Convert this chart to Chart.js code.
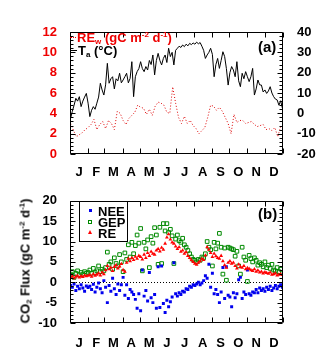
<!DOCTYPE html>
<html>
<head>
<meta charset="utf-8">
<script src="https://cdn.jsdelivr.net/npm/chart.js@4.4.1/dist/chart.umd.min.js"></script>
<style>
  body { margin: 0; background: #fff; }
  #wrap { position: relative; width: 327px; height: 359px; font-family: "Liberation Sans", Arial, sans-serif; font-weight: bold; }
  .panel { position: absolute; left: 0; width: 327px; }
  .lg { position: absolute; font-size: 13px; line-height: 13px; white-space: nowrap; }
  sub, sup { font-size: 8px; line-height: 0; }
  sub { vertical-align: -2px; }
  sup { vertical-align: 5px; }
  .dot { display: inline-block; width: 6px; border-top: 1px dotted #ee0000; vertical-align: 4px; margin-right: 1px; }
  .sol { display: inline-block; width: 7px; border-top: 1px solid #000; vertical-align: 4px; margin-right: 1px; }
  .tag { position: absolute; font-size: 15px; }
  #box { position: absolute; left: 79px; top: 201px; width: 47px; height: 39px; border: 1px solid #000; background: #fff; }
  #box .row { position: absolute; left: 18px; font-size: 13px; line-height: 11px; }
  #box .mk { position: absolute; }
  #ytitle { position: absolute; left: 25px; top: 261px; transform: translate(-50%, -50%) rotate(-90deg); font-size: 13px; white-space: nowrap; }
</style>
</head>
<body>
<div id="wrap">
  <div class="panel" style="top:0;height:180px"><canvas id="chartA"></canvas></div>
  <div class="panel" style="top:180px;height:179px"><canvas id="chartB"></canvas></div>

  <div class="lg" style="left:70px;top:31px;color:#ee0000"><span class="dot"></span>RE<sub>w</sub> (gC m<sup>-2</sup> d<sup>-1</sup>)</div>
  <div class="lg" style="left:70px;top:44px;color:#000"><span class="sol"></span>T<sub>a</sub> (°C)</div>
  <div class="tag" style="left:258px;top:38px">(a)</div>
  <div class="tag" style="left:258px;top:205px">(b)</div>

  <div id="box">
    <span class="mk" style="left:9px;top:7px;width:3px;height:3px;background:#0000ee"></span>
    <span class="mk" style="left:8px;top:18px;width:2px;height:2px;border:1px solid #008a00"></span>
    <span class="mk" style="left:8px;top:28px;width:0;height:0;border-left:2px solid transparent;border-right:2px solid transparent;border-bottom:4px solid #ff0000"></span>
    <div class="row" style="top:4px">NEE</div>
    <div class="row" style="top:15px">GEP</div>
    <div class="row" style="top:26px">RE</div>
  </div>
  <div id="ytitle">CO<sub>2</sub> Flux (gC m<sup>-2</sup> d<sup>-1</sup>)</div>
</div>

<script>
const monthLabels = ['J', 'F', 'M', 'A', 'M', 'J', 'J', 'A', 'S', 'O', 'N', 'D'];
const monthStarts = [0, 31, 59, 90, 120, 151, 181, 212, 243, 273, 304, 334, 365];

// sampling days (day of year)
const fluxDays = Array.from({length: 122}, (_, i) => 1 + 3 * i);
const taDays = fluxDays;
const reWDays = Array.from({length: 73}, (_, i) => 1 + 5 * i);

// (a) RE_w, gC m-2 d-1 (left axis)
const reW = [
  3.0, 2.3, 1.7, 1.9, 2.1, 2.4, 2.6, 2.9, 3.4, 2.4,
  2.9, 3.2, 2.5, 3.3, 3.0, 2.4, 4.2, 4.0, 3.3, 2.9,
  3.5, 3.8, 4.1, 4.8, 4.6, 4.5, 3.9, 4.4, 3.8, 4.7,
  5.1, 5.0, 4.8, 4.1, 4.0, 6.6, 5.0, 3.6, 3.0, 3.7,
  3.0, 3.3, 2.8, 2.5, 2.0, 2.3, 2.6, 3.6, 4.8, 4.7,
  4.3, 4.6, 4.2, 3.6, 3.0, 2.0, 3.9, 3.1, 3.3, 3.3,
  3.0, 3.1, 3.2, 2.9, 2.7, 2.8, 2.9, 2.4, 2.5, 2.3,
  2.6, 1.7, 2.7
];

// (a) air temperature, degC (right axis)
const ta = [
  -2.5, 1.0, 4.0, 7.4, 6.0, 8.2, 3.3, 6.0, 8.0, 9.8, 5.0,
  -1.6, 1.5, 3.3, 2.0, 5.0, 8.0, 14.8, 11.5, 9.0,
  14.0, 24.6, 14.8, 17.0, 18.0, 12.0, 17.0, 16.0, 19.7, 15.0,
  16.4, 18.0, 19.7, 15.0, 17.2, 25.4, 8.2, 18.0, 20.5, 22.0,
  25.4, 22.0, 20.5, 23.0, 21.3, 26.0, 24.0, 28.7, 18.9, 26.0, 29.5,
  26.0, 23.8, 27.0, 28.7, 25.0, 32.0, 27.9, 30.0, 23.8, 31.0,
  32.0, 33.0, 32.4, 33.6, 32.8, 34.0, 33.2, 34.4, 33.8, 34.6,
  34.0, 35.0, 34.2, 34.8, 33.0, 31.0, 27.0, 28.7, 30.0, 32.0,
  29.0, 18.0, 24.0, 27.0, 22.1, 26.0, 30.3, 27.9, 22.0, 13.9,
  20.0, 23.0, 21.3, 18.0, 25.4, 16.0, 13.1, 19.7, 17.0, 20.5, 18.0,
  15.6, 18.0, 22.1, 9.0, 12.0, 16.4, 14.0, 13.9, 10.5, 11.5,
  9.8, 11.0, 13.1, 10.0, 8.2, 7.0, 6.6, 4.0, 6.2, 2.5
];

// (b) CO2 fluxes, gC m-2 d-1
const nee = [
  -0.8, -1.2, -0.4, -2.0, -1.0, -1.6, -0.6, -1.4, -2.2, -0.9, -1.3,
  -1.0, -1.8, -0.5, -2.4, -1.2, -0.2, -1.6, -2.6, 0.4,
  -1.2, -5.0, -0.8, -2.2, 1.0, -1.6, -3.0, -0.4, -2.0, -0.6,
  1.2, -3.2, -0.6, -4.0, -1.8, -2.4, -3.0, -4.2, -6.4, -2.8,
  -7.0, 3.0, -3.4, -2.0, -4.6, 2.4, -3.8, -5.0, -3.0, -6.4, 3.8,
  -6.2, 4.0, -5.2, -7.4, -4.4, -6.0, -4.8, -3.6, 4.8, -2.8,
  -3.4, -2.6, -3.0, -2.2, -2.4, -1.6, -1.8, -1.0, -1.2, -0.6,
  -0.8, -0.4, 0.0, -0.6, -0.2, 0.4, 1.6, 1.0, 4.4, -1.2,
  2.2, -2.8, -1.8, -3.0, -5.0, -2.4, 3.6, -4.0, 3.8, -3.2,
  -3.6, -6.0, -2.6, -3.8, -2.8, 0.6, 1.2, -4.0, -2.4, -3.0, 3.0,
  -2.8, -3.2, -2.4, -2.6, -1.8, -2.6, -1.4, -2.0, -1.6, -2.2,
  -1.2, -1.8, -1.0, -2.0, -1.4, -0.8, -1.6, -1.0, -0.6, -1.2
];
const gep = [
  2.0, 2.6, 1.2, 2.2, 2.8, 1.8, 2.4, 2.0, 2.6, 2.2, 2.4,
  3.0, 2.2, 3.4, 2.4, 2.8, 4.0, 2.6, 3.2, 2.8,
  3.6, 7.4, 4.4, 5.0, 3.2, 6.0, 4.6, 4.0, 6.8, 5.0,
  2.6, 7.2, 5.6, 9.2, 6.2, 9.8, 7.0, 9.0, 11.6, 9.6,
  13.2, 2.8, 9.8, 8.2, 10.4, 3.6, 11.2, 9.6, 13.4, 11.6, 4.4,
  13.5, 4.6, 14.4, 12.6, 14.4, 12.2, 13.0, 11.4, 4.6, 10.6,
  11.6, 10.2, 9.8, 10.8, 9.2, 8.6, 7.8, 7.0, 6.2, 5.6,
  5.4, 5.0, 5.6, 5.4, 6.2, 6.0, 7.0, 10.0, 8.6, 8.0,
  4.0, 9.8, 8.2, 9.6, 12.0, 8.6, 2.0, 8.4, 0.5, 8.6,
  8.4, 8.2, 8.0, 6.4, 7.6, 4.0, 2.0, 8.6, 6.2, 5.4, 0.2,
  6.6, 5.8, 5.0, 6.0, 5.4, 4.2, 4.8, 4.4, 3.8, 5.0,
  3.6, 4.2, 3.4, 4.4, 3.0, 2.8, 3.6, 2.6, 3.2, 2.4
];
const re = [
  1.2, 1.5, 1.0, 1.4, 1.6, 1.2, 1.5, 1.3, 1.7, 1.5, 1.6,
  1.8, 1.4, 2.0, 1.6, 1.9, 2.2, 1.7, 2.4, 2.0,
  3.0, 4.0, 3.2, 3.6, 2.8, 3.8, 4.2, 3.4, 3.9, 4.5,
  3.0, 2.6, 4.8, 5.8, 5.2, 6.0, 5.5, 6.3, 5.8, 6.5,
  6.2, 5.6, 6.8, 6.0, 7.2, 6.5, 7.5, 7.0, 6.8, 7.8, 8.2,
  7.6, 8.5, 8.0, 9.5, 11.0, 11.8, 10.5, 9.8, 9.5, 8.8,
  8.2, 8.6, 7.5, 7.8, 7.0, 7.4, 6.5, 6.0, 5.4, 5.0,
  4.6, 4.3, 4.8, 5.2, 5.8, 5.5, 6.6, 8.6, 8.0, 7.2,
  6.2, 7.0, 6.4, 6.0, 5.8, 6.5, 5.2, 4.2, 3.6, 4.8,
  5.2, 4.6, 4.8, 4.0, 3.4, 4.4, 3.8, 3.6, 4.0, 3.2, 3.5,
  3.3, 3.0, 2.8, 3.2, 2.6, 2.9, 2.4, 2.6, 2.2, 2.5,
  2.3, 2.1, 2.4, 1.9, 2.0, 2.2, 1.7, 1.9, 2.0, 1.8
];

const monthMids = monthLabels.map((_, i) => (monthStarts[i] + monthStarts[i + 1]) / 2);
const pts = (days, vals) => days.map((d, i) => ({x: d, y: vals[i]}));

Chart.defaults.font.family = '"Liberation Sans", Arial, sans-serif';
Chart.defaults.font.weight = 'bold';
Chart.defaults.font.size = 13;
Chart.defaults.color = '#000';

// frame, inward tick marks, optional dotted zero line
const frameTicks = {
  id: 'frameTicks',
  beforeDatasetsDraw(chart, args, o) {
    if (!o.zero) return;
    const {ctx, chartArea: a} = chart;
    const y = Math.round(chart.scales.y.getPixelForValue(0)) + 0.5;
    ctx.save();
    ctx.strokeStyle = '#000';
    ctx.lineWidth = 1;
    ctx.setLineDash([1, 2]);
    ctx.beginPath();
    ctx.moveTo(a.left, y);
    ctx.lineTo(a.right, y);
    ctx.stroke();
    ctx.restore();
  },
  afterDatasetsDraw(chart, args, o) {
    const {ctx, chartArea: a, scales} = chart;
    const L = Math.round(a.left) + 0.5, R = Math.round(a.right) - 0.5;
    const T = Math.round(a.top) + 0.5, B = Math.round(a.bottom) - 0.5;
    ctx.save();
    ctx.strokeStyle = '#000';
    ctx.lineWidth = 1;
    ctx.beginPath();
    ctx.rect(L, T, R - L, B - T);
    monthStarts.forEach(d => {
      const x = Math.round(scales.x.getPixelForValue(d)) + 0.5;
      ctx.moveTo(x, B); ctx.lineTo(x, B - 5);
      ctx.moveTo(x, T); ctx.lineTo(x, T + 5);
    });
    (o.sides || []).forEach(sd => {
      const s = scales[sd.axis];
      const n = Math.round((s.max - s.min) / sd.minor);
      for (let k = 0; k <= n; k++) {
        const v = s.min + k * sd.minor;
        const r = v / sd.major;
        const len = Math.abs(r - Math.round(r)) < 1e-6 ? 5 : 3;
        const y = Math.round(s.getPixelForValue(v)) + 0.5;
        const x0 = sd.side === 'left' ? L : R;
        const dir = sd.side === 'left' ? 1 : -1;
        ctx.moveTo(x0, y); ctx.lineTo(x0 + dir * len, y);
      }
    });
    ctx.stroke();
    ctx.restore();
  }
};

function monthAxis(pad, h) {
  return {
    type: 'linear', min: 0, max: 365,
    afterBuildTicks(s) { s.ticks = monthMids.map(v => ({value: v})); },
    ticks: {autoSkip: false, maxRotation: 0, padding: pad, color: '#000', callback: (v, i) => monthLabels[i]},
    grid: {display: false, drawTicks: false},
    border: {display: false},
    afterFit(s) { s.height = h; }
  };
}

new Chart(document.getElementById('chartA'), {
  type: 'line',
  data: {
    datasets: [{
      label: 'REw',
      data: pts(reWDays, reW),
      yAxisID: 'y',
      borderColor: '#dd0000',
      borderWidth: 1,
      borderDash: [1, 2],
      pointRadius: 0,
      tension: 0
    }, {
      label: 'Ta',
      data: pts(taDays, ta),
      yAxisID: 'y2',
      borderColor: '#000',
      borderWidth: 1,
      pointRadius: 0,
      tension: 0
    }]
  },
  options: {
    animation: false,
    responsive: true,
    maintainAspectRatio: false,
    layout: {padding: {top: 32, left: 0, right: 0, bottom: 0}},
    plugins: {
      legend: {display: false},
      tooltip: {enabled: false},
      frameTicks: {sides: [{axis: 'y', side: 'left', major: 2, minor: 0.4}, {axis: 'y2', side: 'right', major: 10, minor: 2}]}
    },
    scales: {
      x: monthAxis(11, 26),
      y: {
        min: 0, max: 12,
        ticks: {stepSize: 2, color: '#ee0000', padding: 13},
        grid: {display: false, drawTicks: false},
        border: {display: false},
        afterFit(s) { s.width = 70; }
      },
      y2: {
        position: 'right', min: -20, max: 40,
        ticks: {stepSize: 10, color: '#000', padding: 14},
        grid: {display: false, drawTicks: false},
        border: {display: false},
        afterFit(s) { s.width = 44; }
      }
    }
  },
  plugins: [frameTicks]
});

new Chart(document.getElementById('chartB'), {
  type: 'scatter',
  data: {
    datasets: [{
      label: 'RE',
      data: pts(fluxDays, re),
      pointStyle: 'triangle',
      pointRadius: 2.2,
      backgroundColor: '#ff0000',
      borderWidth: 0,
      order: 0
    }, {
      label: 'NEE',
      data: pts(fluxDays, nee),
      pointStyle: 'rect',
      pointRadius: 2.1,
      backgroundColor: '#0000ee',
      borderWidth: 0,
      order: 1
    }, {
      label: 'GEP',
      data: pts(fluxDays, gep),
      pointStyle: 'rect',
      pointRadius: 2.6,
      backgroundColor: 'rgba(0,0,0,0)',
      borderColor: '#008a00',
      borderWidth: 1,
      order: 2
    }]
  },
  options: {
    animation: false,
    responsive: true,
    maintainAspectRatio: false,
    layout: {padding: {top: 19, left: 0, right: 44, bottom: 0}},
    plugins: {
      legend: {display: false},
      tooltip: {enabled: false},
      frameTicks: {zero: true, sides: [{axis: 'y', side: 'left', major: 5, minor: 1}, {axis: 'y', side: 'right', major: 5, minor: 1}]}
    },
    scales: {
      x: monthAxis(13, 36),
      y: {
        min: -10, max: 20,
        ticks: {stepSize: 5, color: '#000', padding: 13},
        grid: {display: false, drawTicks: false},
        border: {display: false},
        afterFit(s) { s.width = 70; }
      }
    }
  },
  plugins: [frameTicks]
});
</script>
</body>
</html>
